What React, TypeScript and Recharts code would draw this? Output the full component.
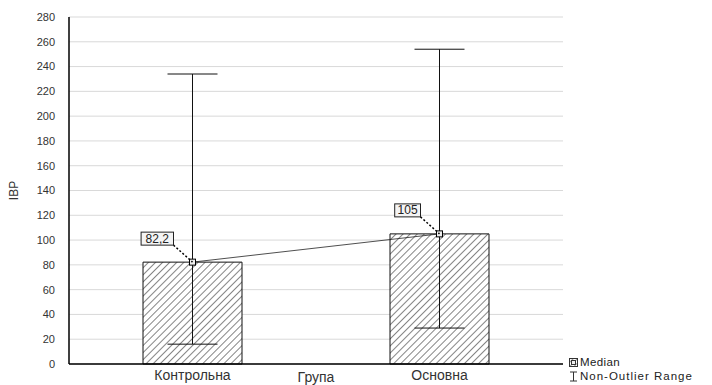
import React from 'react';
import {
  ComposedChart,
  Bar,
  Line,
  XAxis,
  YAxis,
  CartesianGrid,
  ErrorBar,
  LabelList,
  Legend,
  Label,
} from 'recharts';

const groups = ['Контрольна', 'Основна'];
const medians = [82.2, 105];
const rangeLow = [16, 29];
const rangeHigh = [234, 254];
const yTicks = [0, 20, 40, 60, 80, 100, 120, 140, 160, 180, 200, 220, 240, 260, 280];

const data = groups.map((g, i) => ({
  name: g,
  median: medians[i],
  range: [medians[i] - rangeLow[i], rangeHigh[i] - medians[i]],
}));

const FONT = '"Liberation Sans", Arial, sans-serif';

const fmt = (v: number) => String(v).replace('.', ',');

const SquareDot = (props: any) => {
  const { cx, cy } = props;
  if (cx == null || cy == null) return null;
  return <rect x={cx - 3} y={cy - 3} width={6} height={6} fill="#eeeeee" stroke="#000" strokeWidth={1} />;
};

const MedianLabel = (props: any) => {
  const { x, y, value } = props;
  if (x == null || y == null) return null;
  const txt = fmt(value);
  const w = txt.length * 6.6 + 6;
  const h = 13;
  const right = x - 19;
  const bottom = y - 17;
  return (
    <g>
      <line x1={right} y1={bottom} x2={x} y2={y} stroke="#000" strokeWidth={1.5} strokeDasharray="2 2" />
      <rect x={right - w} y={bottom - h} width={w} height={h} fill="#f4f4f4" stroke="#222" strokeWidth={1} />
      <text x={right - w / 2} y={bottom - 2.5} textAnchor="middle" fontFamily={FONT} fontSize={12} fill="#222">
        {txt}
      </text>
    </g>
  );
};

const LegendContent = () => (
  <div style={{ fontFamily: FONT, fontSize: 11.5, color: '#222', lineHeight: '13.5px' }}>
    <div style={{ display: 'flex', alignItems: 'center', height: 13.5 }}>
      <svg width={9} height={9} style={{ marginRight: 2 }}>
        <rect x={0.5} y={0.5} width={8} height={8} fill="url(#hatchLeg)" stroke="#333" />
        <rect x={2.5} y={2.5} width={4} height={4} fill="#eee" stroke="#333" />
      </svg>
      <span style={{ letterSpacing: 0.4 }}>Median</span>
    </div>
    <div style={{ display: 'flex', alignItems: 'center', height: 13.5 }}>
      <svg width={9} height={11} style={{ marginRight: 2 }}>
        <line x1={1} y1={1} x2={8} y2={1} stroke="#333" />
        <line x1={4.5} y1={1} x2={4.5} y2={10} stroke="#333" />
        <line x1={1} y1={10} x2={8} y2={10} stroke="#333" />
      </svg>
      <span style={{ letterSpacing: 1 }}>Non-Outlier Range</span>
    </div>
  </div>
);

export default function App() {
  return (
    <div style={{ position: 'absolute', left: 0, top: 0, width: 712, height: 385, background: '#fff' }}>
      <ComposedChart
        width={712}
        height={385}
        data={data}
        margin={{ top: 17, right: 149, bottom: 0, left: 0 }}
        barCategoryGap={0}
      >
        <defs>
          <pattern id="hatch" patternUnits="userSpaceOnUse" width={5} height={5} patternTransform="rotate(45)">
            <rect width={5} height={5} fill="#fff" />
            <line x1={0} y1={0} x2={0} y2={5} stroke="#333" strokeWidth={1.2} />
          </pattern>
          <pattern id="hatchLeg" patternUnits="userSpaceOnUse" width={3} height={3} patternTransform="rotate(45)">
            <rect width={3} height={3} fill="#fff" />
            <line x1={0} y1={0} x2={0} y2={3} stroke="#333" strokeWidth={1} />
          </pattern>
        </defs>
        <CartesianGrid vertical={false} stroke="#d9d9d9" />
        <XAxis
          dataKey="name"
          height={21}
          axisLine={{ stroke: '#000', strokeWidth: 1.5 }}
          tickLine={false}
          tickMargin={0}
          tick={{ fontFamily: FONT, fontSize: 14, fill: '#333' }}
        >
          <Label
            value="Група"
            position="insideBottom"
            offset={3}
            style={{ fontFamily: FONT, fontSize: 14, fill: '#333' }}
          />
        </XAxis>
        <XAxis
          xAxisId="top"
          dataKey="name"
          orientation="top"
          height={0}
          tick={false}
          tickLine={false}
          axisLine={{ stroke: '#000', strokeWidth: 1.5 }}
        />
        <YAxis
          width={69}
          domain={[0, 280]}
          ticks={yTicks}
          interval={0}
          axisLine={{ stroke: '#000', strokeWidth: 1.5 }}
          tickLine={false}
          tickMargin={8}
          tick={{ fontFamily: FONT, fontSize: 11, fill: '#333' }}
        >
          <Label
            content={(p: any) => {
              const vb = p.viewBox || {};
              const cy = (vb.y || 0) + (vb.height || 0) / 2;
              return (
                <text
                  x={14}
                  y={cy}
                  transform={`rotate(-90 14 ${cy})`}
                  textAnchor="middle"
                  dominantBaseline="central"
                  fontFamily={FONT}
                  fontSize={12}
                  fill="#333"
                >
                  IBP
                </text>
              );
            }}
          />
        </YAxis>
        <YAxis yAxisId="right" orientation="right" width={0} domain={[0, 280]} tick={false} tickLine={false} axisLine={{ stroke: '#000', strokeWidth: 1.5 }} />
        <Bar dataKey="median" barSize={99} fill="url(#hatch)" stroke="#111" strokeWidth={1} isAnimationActive={false}>
          <ErrorBar dataKey="range" width={25} stroke="#111" strokeWidth={1} direction="y" />
        </Bar>
        <Line
          dataKey="median"
          type="linear"
          stroke="#222"
          strokeWidth={0.8}
          dot={<SquareDot />}
          activeDot={false}
          isAnimationActive={false}
        >
          <LabelList dataKey="median" content={<MedianLabel />} />
        </Line>
        <Legend
          layout="horizontal"
          verticalAlign="middle"
          align="center"
          content={<LegendContent />}
          wrapperStyle={{ left: 569, top: 356, width: 143, height: 28 }}
        />
      </ComposedChart>
    </div>
  );
}
